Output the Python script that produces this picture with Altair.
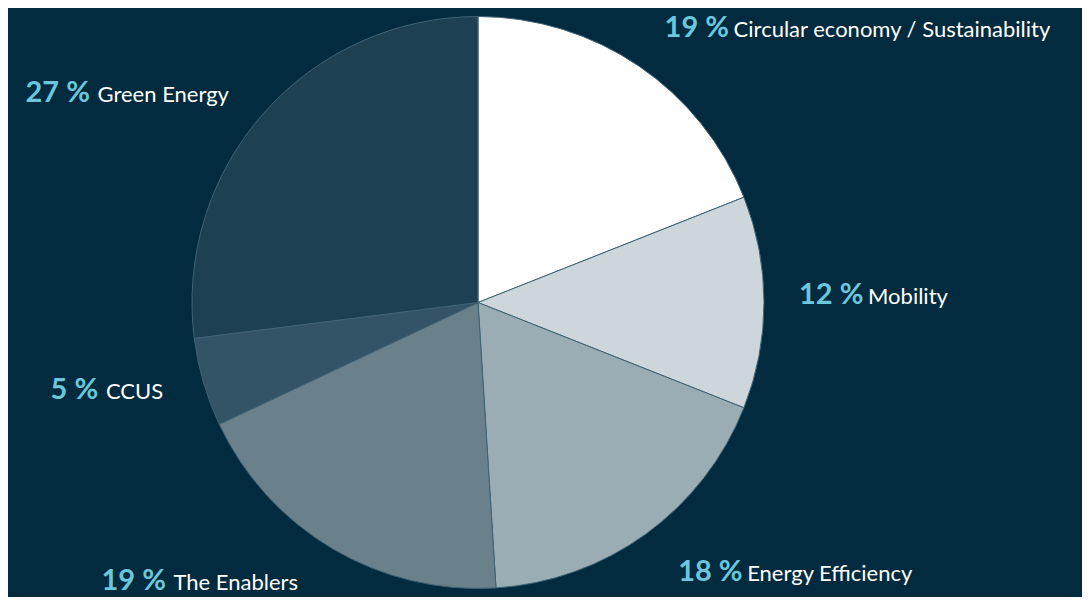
import altair as alt
import pandas as pd

# ---- data ----
categories = ["Circular economy / Sustainability", "Mobility", "Energy Efficiency",
              "The Enablers", "CCUS", "Green Energy"]
shares = [19, 12, 18, 19, 5, 27]
pct_labels = [f"{v} %" for v in shares]

# ---- styles / layout ----
slice_colors = ["#ffffff", "#cdd6da", "#9aadb4", "#6a808b", "#335466", "#1e4053"]
side = ["right", "right", "right", "left", "left", "left"]
name_width = {"The Enablers": 124, "CCUS": 57, "Green Energy": 131}
# small label nudges (dx, dy) relative to the mid-angle anchor
nudge = {"Circular economy / Sustainability": (0, 0), "Mobility": (-11, -8),
         "Energy Efficiency": (5, 1), "The Enablers": (-11, -7),
         "CCUS": (4, -5), "Green Energy": (0, 10)}
BG = "#022b40"
PCT_COLOR = "#6cc6dc"
FONT = "Lato"
R_PIE = 286
R_LABEL = 332
GAP = 8
PCT_W = 61

df = pd.DataFrame({"cat": categories, "value": shares, "pct": pct_labels,
                   "idx": list(range(len(categories)))})

base = alt.Chart(df).encode(
    theta=alt.Theta("value:Q", stack=True),
    order=alt.Order("idx:Q"),
)

pie = base.mark_arc(outerRadius=R_PIE, stroke="#3f6375", strokeWidth=1).encode(
    color=alt.Color("cat:N", scale=alt.Scale(domain=categories, range=slice_colors),
                    legend=None)
)

layers = [pie]
for cat, s in zip(categories, side):
    ndx, ndy = nudge[cat]
    if s == "right":
        pct_dx, pct_al = ndx, "left"
        name_dx, name_al = ndx + PCT_W + GAP, "left"
    else:
        pct_dx, pct_al = ndx - (name_width[cat] + GAP), "right"
        name_dx, name_al = ndx, "right"
    pct_layer = base.transform_calculate(
        t=f"datum.cat == '{cat}' ? datum.pct : ''"
    ).mark_text(radius=R_LABEL, font=FONT, fontSize=29, fontWeight="bold",
                color=PCT_COLOR, baseline="alphabetic", align=pct_al,
                dx=pct_dx, dy=9 + ndy).encode(text="t:N")
    name_layer = base.transform_calculate(
        t=f"datum.cat == '{cat}' ? datum.cat : ''"
    ).mark_text(radius=R_LABEL, font=FONT, fontSize=22, color="#ffffff",
                baseline="alphabetic", align=name_al,
                dx=name_dx, dy=9 + ndy).encode(text="t:N")
    layers += [pct_layer, name_layer]

chart = alt.layer(*layers).properties(
    width=940, height=589,
    padding={"left": 0, "top": 0, "right": 134, "bottom": 0},
    autosize=alt.AutoSizeParams(type="none"),
).configure(background=BG).configure_view(stroke=None)

chart.save("out.html", embed_options={"renderer": "svg", "actions": False})
